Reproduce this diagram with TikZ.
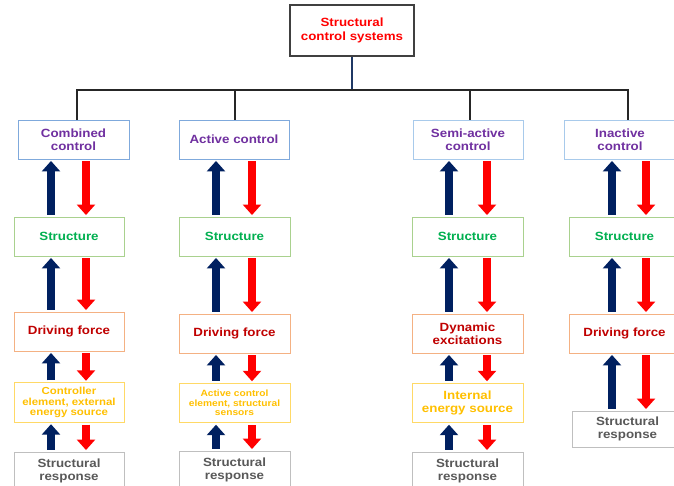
\documentclass[tikz,border=0pt]{standalone}
\usepackage{fontspec}
\setmainfont{Liberation Sans}[FakeStretch=1.12]
\usetikzlibrary{arrows.meta}
\definecolor{topred}{HTML}{FF0000}
\definecolor{purp}{HTML}{7030A0}
\definecolor{grn}{HTML}{00B050}
\definecolor{dred}{HTML}{C00000}
\definecolor{gold}{HTML}{FFC000}
\definecolor{gtext}{HTML}{595959}
\definecolor{bbord}{HTML}{7FA9DC}
\definecolor{lbbord}{HTML}{A8CAEB}
\definecolor{gbord}{HTML}{A9D18E}
\definecolor{obord}{HTML}{F4B183}
\definecolor{ybord}{HTML}{FFD966}
\definecolor{sbord}{HTML}{BFBFBF}
\definecolor{navy}{HTML}{002060}
\definecolor{arred}{HTML}{FF0000}
\definecolor{topbord}{HTML}{404040}
\definecolor{vline}{HTML}{1F3864}
\begin{document}
\begin{tikzpicture}[x=1pt,y=-1pt,
  box/.style={draw=#1,line width=0.9pt,fill=white,inner sep=0pt,align=center,
    font=\bfseries\fontsize{11.9}{13.3}\selectfont},
  ctrlbox/.style={box=bbord,text=purp,minimum height=39pt},
  ctrlboxl/.style={box=lbbord,text=purp,minimum height=39pt},
  strbox/.style={box=gbord,text=grn,minimum height=39pt},
  drvbox/.style={box=obord,text=dred,minimum height=39pt},
  enbox/.style={box=ybord,text=gold,minimum height=39.5pt},
  respbox/.style={box=sbord,text=gtext},
  uparr/.style={draw=navy,line width=8pt,-{Triangle[width=18pt,length=10.5pt]},shorten <=2pt,shorten >=1.5pt},
  dnarr/.style={draw=arred,line width=8pt,-{Triangle[width=18pt,length=10.5pt]},shorten <=2pt,shorten >=1.5pt},
  tree/.style={draw=black!85,line width=1.2pt}
]
\useasboundingbox (0,0) rectangle (674,486);
\fill[white] (0,0) rectangle (674,486);

% top
\node[box=topbord,line width=1.4pt,text=topred,minimum width=124pt,minimum height=51pt] (top) at (352,30.5) {Structural\\control systems};

% column A
\node[ctrlbox,minimum width=111pt] (A1) at (73.5,139.5) {Combined\\control};
\node[strbox,minimum width=110pt] (A2) at (69,236.5) {Structure};
\node[drvbox,minimum width=110pt] (A3) at (69,331.5) {Driving force};
\node[enbox,minimum width=110pt,font=\bfseries\fontsize{10.2}{10.7}\selectfont] (A4) at (69,402.5) {Controller\\element, external\\energy source};
\node[respbox,minimum width=110pt,minimum height=38pt] (A5) at (69,471) {Structural\\response};

% column B
\node[ctrlbox,minimum width=110pt] (B1) at (234,139.5) {Active control};
\node[strbox,minimum width=111pt] (B2) at (234.5,236.5) {Structure};
\node[drvbox,minimum width=111pt] (B3) at (234.5,333.5) {Driving force};
\node[enbox,minimum width=111pt,font=\bfseries\fontsize{9.1}{9.3}\selectfont] (B4) at (234.5,403) {Active control\\element, structural\\sensors};
\node[respbox,minimum width=111pt,minimum height=38pt] (B5) at (234.5,470) {Structural\\response};

% column C
\node[ctrlboxl,minimum width=110pt] (C1) at (468,139.5) {Semi-active\\control};
\node[strbox,minimum width=111pt] (C2) at (467.5,236.5) {Structure};
\node[drvbox,minimum width=111pt] (C3) at (467.5,333.5) {Dynamic\\excitations};
\node[enbox,minimum width=111pt] (C4) at (467.5,403) {Internal\\energy source};
\node[respbox,minimum width=111pt,minimum height=38pt] (C5) at (467.5,471) {Structural\\response};

% column D
\node[ctrlboxl,minimum width=112pt] (D1) at (620,139.5) {Inactive\\control};
\node[strbox,minimum width=111pt] (D2) at (624.5,236.5) {Structure};
\node[drvbox,minimum width=111pt] (D3) at (624.5,333.5) {Driving force};
\node[respbox,minimum width=111pt,minimum height=36pt] (D5) at (627.5,429) {Structural\\response};

% tree connectors
\coordinate (bus) at (352,90);
\draw[draw=vline,line width=1.2pt] (top.south) -- (bus);
\draw[tree] ([xshift=3.5pt]A1.north) |- (bus) -| ([xshift=8pt]D1.north);
\draw[tree] ([xshift=1pt]B1.north) -- ([xshift=1pt]B1.north |- bus);
\draw[tree] ([xshift=2pt]C1.north) -- ([xshift=2pt]C1.north |- bus);

% arrow columns
\coordinate (Ab) at (51,0);  \coordinate (Ar) at (86,0);
\coordinate (Bb) at (216,0); \coordinate (Br) at (252,0);
\coordinate (Cb) at (449,0); \coordinate (Cr) at (487,0);
\coordinate (Db) at (612,0); \coordinate (Dr) at (646,0);

\foreach \c/\u/\l in {A/1/2,A/2/3,A/3/4,A/4/5,B/1/2,B/2/3,B/3/4,B/4/5,C/1/2,C/2/3,C/3/4,C/4/5,D/1/2,D/2/3,D/3/5}{
  \draw[uparr] (\c\l.north -| \c b) -- (\c\u.south -| \c b);
  \draw[dnarr] (\c\u.south -| \c r) -- (\c\l.north -| \c r);
}
\end{tikzpicture}
\end{document}
